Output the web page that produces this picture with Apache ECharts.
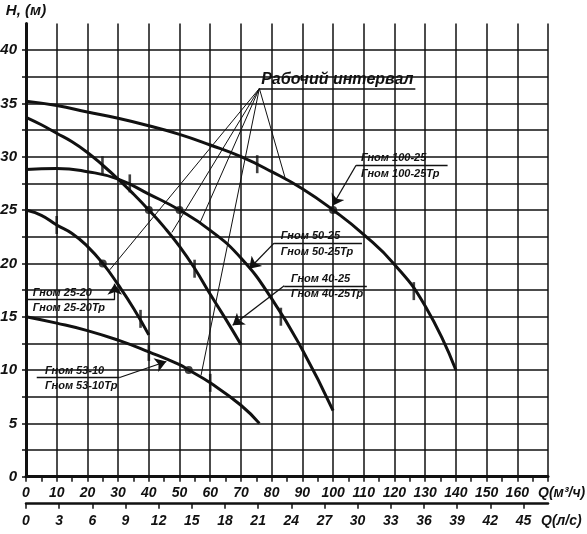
<!DOCTYPE html>
<html><head><meta charset="utf-8">
<script src="https://cdn.jsdelivr.net/npm/echarts@6/dist/echarts.min.js"></script>
<style>html,body{margin:0;padding:0;background:#fff}#c{width:587px;height:534px}</style>
</head><body><div id="c"></div>
<script>
// ---- axes ----
const flowM3hLabels = [0,10,20,30,40,50,60,70,80,90,100,110,120,130,140,150,160];
const flowLsLabels = [0,3,6,9,12,15,18,21,24,27,30,33,36,39,42,45];
const headGridValues = [0,2.5,5,7.5,10,12.5,15,17.5,20,22.5,25,27.5,30,32.5,35,37.5,40];
const headLabels = [0,5,10,15,20,25,30,35,40];
const M3H_PER_LS = 3.6;

// ---- pump curves: [Q m3/h, H m] ----
const gnom100_25 = [[0,35.2],[10,34.8],[20,34.2],[30,33.6],[40,32.9],[50,32.1],[60,31.1],[70,30.0],[80,28.6],[90,27.0],[100,25.0],[110,22.7],[120,19.9],[130,16.0],[140,10.0]];
const gnom40_25 = [[0,33.7],[5,33.0],[10,32.2],[15,31.4],[20,30.4],[25,29.2],[30,27.9],[35,26.5],[40,25.0],[45,23.4],[50,21.6],[55,19.5],[60,17.1],[65,14.8],[70,12.4]];
const gnom50_25 = [[0,28.8],[10,28.9],[20,28.6],[30,27.9],[40,26.5],[50,25.0],[60,23.1],[70,20.5],[80,16.7],[90,11.9],[100,6.2]];
const gnom25_20 = [[0,25.0],[5,24.5],[10,23.6],[15,22.8],[20,21.6],[25,20.0],[30,18.0],[35,15.8],[40,13.3]];
const gnom53_10 = [[0,15.0],[10,14.4],[20,13.7],[30,12.8],[40,11.7],[50,10.5],[53,10.0],[60,8.8],[70,6.7],[76,5.0]];

// working interval bounds
const intervalMarks = [[75.3,29.3],[126.3,17.4],[24.9,29.2],[54.9,19.5],[33.8,27.5],[83.0,15.0],[10,23.6],[37.3,14.8],[40,11.7],[60,8.8]];
// nominal points
const nominalPoints = [[100,25],[40,25],[50,25],[25,20],[53,10]];

// "Рабочий интервал" fan
const fanLabel = 'Рабочий интервал';
const fanApex = [76,36.4];
const fanUnderlineEnd = [126.8,36.4];
const fanTargets = [[27.3,19.4],[47.5,22.9],[56.5,23.7],[57.0,9.5],[84.6,27.8]];

// curve labels
const curveLabels = [
  {top:'Гном 100-25', bottom:'Гном 100-25Тр', textX:109.1, lineY:29.2, lineX:[107.5,137.3], from:[107.5,29.2], to:[99.8,25.4]},
  {top:'Гном 50-25',  bottom:'Гном 50-25Тр',  textX:83.0,  lineY:21.9, lineX:[80.8,109.4],  from:[80.8,21.9],  to:[72.7,19.5]},
  {top:'Гном 40-25',  bottom:'Гном 40-25Тр',  textX:86.3,  lineY:17.9, lineX:[84.1,111.0],  from:[84.1,17.9],  to:[67.3,14.2]},
  {top:'Гном 25-20',  bottom:'Гном 25-20Тр',  textX:2.2,   lineY:16.6, lineX:[0.2,28.9],    from:[28.9,16.6],  to:[28.9,18.1]},
  {top:'Гном 53-10',  bottom:'Гном 53-10Тр',  textX:6.2,   lineY:9.3,  lineX:[3.5,30.5],    from:[30.5,9.3],   to:[45.7,10.8]}
];

const INK = '#111';
const FONT = '"Liberation Sans", Arial, sans-serif';
const xFont = {fontFamily:FONT, fontStyle:'italic', fontWeight:'bold', fontSize:14, color:INK};
const yFont = {fontFamily:FONT, fontStyle:'italic', fontWeight:'bold', fontSize:15, color:INK};
const nameFont = {fontFamily:FONT, fontStyle:'italic', fontWeight:'bold', fontSize:14, color:INK};

const curveSeries = [gnom100_25, gnom40_25, gnom50_25, gnom25_20, gnom53_10].map(d => ({
  type:'line', data:d, smooth:0.5, showSymbol:false, symbol:'none',
  lineStyle:{color:INK, width:3}, z:5, silent:true
}));

const chart = echarts.init(document.getElementById('c'), null, {renderer:'canvas'});
const option = {
  animation:false,
  backgroundColor:'#fff',
  grid:{left:26, right:39, top:23.4, bottom:57.3, containLabel:false, outerBoundsMode:'none'},
  xAxis:[{
    type:'value', min:0, max:170, interval:10, position:'bottom',
    axisLine:{show:true, onZero:false, lineStyle:{color:INK, width:3}},
    axisTick:{show:true, length:5, lineStyle:{color:INK, width:1.5}},
    minorTick:{show:true, splitNumber:2, length:5, lineStyle:{color:INK, width:1.5}},
    axisLabel:Object.assign({customValues:flowM3hLabels, margin:9, hideOverlap:false}, xFont),
    splitLine:{show:true, lineStyle:{color:INK, width:1.5}},
    name:'Q(м³/ч)', nameLocation:'end', nameGap:-10,
    nameTextStyle:Object.assign({}, nameFont, {align:'left', verticalAlign:'top', padding:[9,0,0,0]})
  },{
    type:'value', min:0, max:170/M3H_PER_LS, position:'bottom', offset:27,
    axisLine:{show:true, onZero:false, lineStyle:{color:INK, width:2.5}},
    axisTick:{show:true, customValues:flowLsLabels, length:5, lineStyle:{color:INK, width:1.5}},
    axisLabel:Object.assign({customValues:flowLsLabels, margin:10, hideOverlap:false}, xFont),
    splitLine:{show:false},
    name:'Q(л/с)', nameLocation:'end', nameGap:-7,
    nameTextStyle:Object.assign({}, nameFont, {align:'left', verticalAlign:'top', padding:[10,0,0,0]})
  }],
  yAxis:{
    type:'value', min:0, max:42.5, interval:2.5,
    axisLine:{show:true, lineStyle:{color:INK, width:3}},
    axisTick:{show:true, customValues:headGridValues, length:4, lineStyle:{color:INK, width:1.5}},
    axisLabel:Object.assign({customValues:headLabels, margin:9}, yFont),
    splitLine:{show:true, lineStyle:{color:INK, width:1.5}},
    name:'H, (м)', nameLocation:'end', nameGap:5,
    nameTextStyle:Object.assign({}, nameFont, {fontSize:15})
  },
  series: curveSeries.concat([
    {type:'scatter', data:intervalMarks, symbol:'rect', symbolSize:[2.6,18], itemStyle:{color:INK}, z:6, silent:true},
    {type:'scatter', data:nominalPoints, symbol:'circle', symbolSize:8, itemStyle:{color:INK}, z:7, silent:true},
    {type:'lines', coordinateSystem:'cartesian2d', polyline:false, silent:true, z:4,
      lineStyle:{color:INK, width:1, opacity:1},
      data: fanTargets.map(t => ({coords:[fanApex, t]})).concat([{coords:[fanApex, fanUnderlineEnd], lineStyle:{width:1.5}}])},
    {type:'lines', coordinateSystem:'cartesian2d', silent:true, z:4,
      lineStyle:{color:INK, width:1.3, opacity:1},
      data: curveLabels.map(a => ({coords:[[a.lineX[0],a.lineY],[a.lineX[1],a.lineY]]}))},
    {type:'lines', coordinateSystem:'cartesian2d', silent:true, z:8,
      symbol:['none','arrow'], symbolSize:[7,11],
      lineStyle:{color:INK, width:1.3, opacity:1},
      data: curveLabels.map(a => ({coords:[a.from, a.to]}))}
  ])
};
chart.setOption(option);

// text annotations placed through the chart's own scales
const P = p => chart.convertToPixel({gridIndex:0}, p);
const graphics = [];
const fanL = P(fanApex), fanR = P(fanUnderlineEnd);
graphics.push({type:'text', x:(fanL[0]+fanR[0])/2, y:fanL[1]-9, z:20,
  style:{text:fanLabel, font:'italic bold 16px '+FONT, fill:INK, align:'center', verticalAlign:'middle'}});
curveLabels.forEach(a => {
  const p = P([a.textX, a.lineY]);
  graphics.push({type:'text', x:p[0], y:p[1]-7, z:20,
    style:{text:a.top, font:'italic bold 11px '+FONT, fill:INK, align:'left', verticalAlign:'middle'}});
  graphics.push({type:'text', x:p[0], y:p[1]+8.5, z:20,
    style:{text:a.bottom, font:'italic bold 11px '+FONT, fill:INK, align:'left', verticalAlign:'middle'}});
});
chart.setOption({graphic:graphics});
</script>
</body></html>
